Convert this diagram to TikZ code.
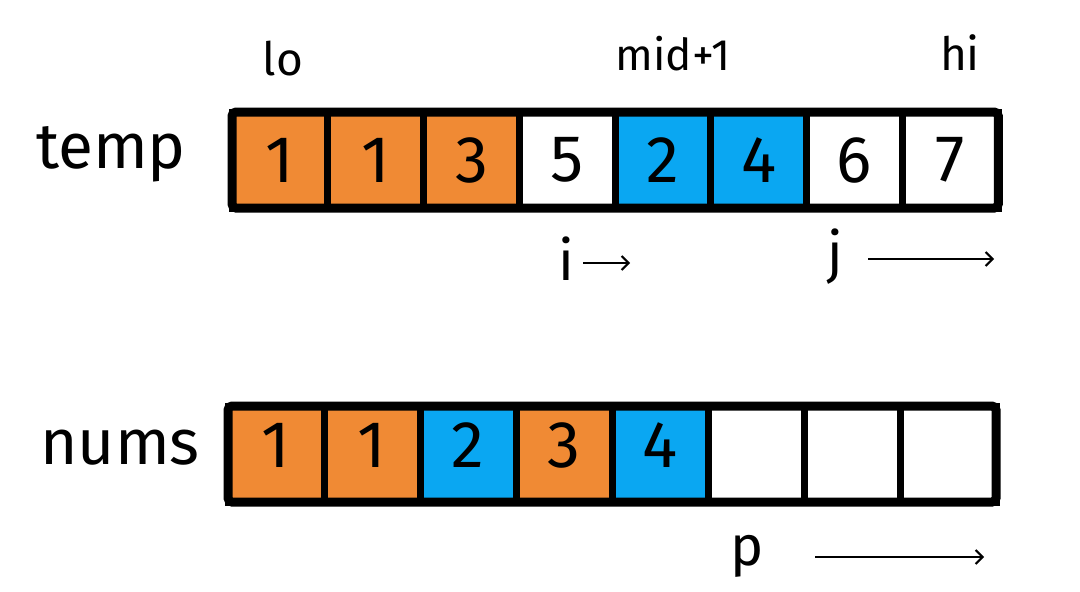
\documentclass[tikz,border=0pt]{standalone}
\usepackage{fontspec}
\setmainfont{Fira Sans}
\usetikzlibrary{arrows.meta}
\definecolor{cellorange}{HTML}{F08A34}
\definecolor{cellblue}{HTML}{0AA7F2}
\tikzset{
  cell/.style={draw=black, line width=7pt, minimum width=96pt, minimum height=96pt,
    inner sep=0pt, outer sep=0pt, font=\fontsize{66}{66}\selectfont, text=black},
  org/.style={cell, fill=cellorange},
  blu/.style={cell, fill=cellblue},
  wht/.style={cell, fill=white},
  frame/.style={draw=black, line width=9pt, rounded corners=4pt},
  lbl/.style={anchor=base, inner sep=0pt, text=black},
  ptr/.style={line width=2pt, -{Straight Barb[length=7pt,width=14pt]}}
}
\begin{document}
\begin{tikzpicture}[x=1pt,y=-1pt]
\useasboundingbox[fill=white] (0,0) rectangle (1080,592);
% temp row
\foreach \n/\v/\s [count=\k from 0] in {t1/1/org,t2/1/org,t3/3/org,t4/5/wht,t5/2/blu,t6/4/blu,t7/6/wht,t8/7/wht}{
  \node[\s] (\n) at (232+48+95.75*\k,160) {\v};
}
\draw[frame] (t1.north west) rectangle (t8.south east);
% nums row
\foreach \n/\v/\s [count=\k from 0] in {n1/1/org,n2/1/org,n3/2/blu,n4/3/org,n5/4/blu,n6//wht,n7//wht,n8//wht}{
  \node[\s] (\n) at (228+48+96*\k,454) {\strut\v};
}
\draw[frame] (n1.north west) rectangle (n8.south east);
% labels
\node[lbl, font=\fontsize{46}{46}\selectfont] (lo) at (283,75) {lo};
\node[lbl, font=\fontsize{44}{44}\selectfont] (mid) at (673,70) {mid+1};
\node[lbl, font=\fontsize{46}{46}\selectfont] (hi) at (960,70) {hi};
\node[lbl, font=\fontsize{64}{64}\selectfont] (temp) at (111,168) {temp};
\node[lbl, font=\fontsize{64}{64}\selectfont] (nums) at (120,464) {nums};
\node[lbl, font=\fontsize{56}{56}\selectfont] (i) at (566,280) {i};
\node[lbl, font=\fontsize{56}{56}\selectfont] (j) at (835,272) {j};
\node[lbl, font=\fontsize{56}{56}\selectfont] (p) at (747,565) {p};
% pointer arrows
\coordinate (ia) at (583,263);
\coordinate (ib) at (630,263);
\coordinate (ja) at (868,259);
\coordinate (jb) at (994,259);
\coordinate (pa) at (815,557);
\coordinate (pb) at (984,557);
\draw[ptr] (ia) -- (ib);
\draw[ptr] (ja) -- (jb);
\draw[ptr] (pa) -- (pb);
\end{tikzpicture}
\end{document}
